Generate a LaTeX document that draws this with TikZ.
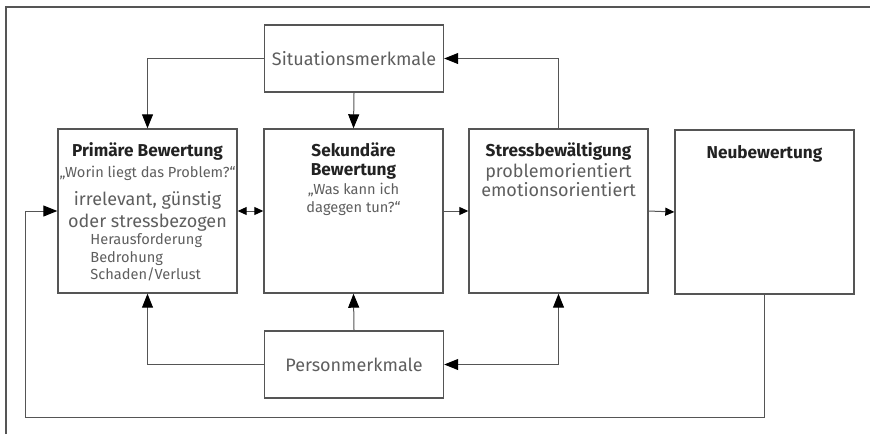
\documentclass[tikz,border=0pt]{standalone}
\usepackage{fontspec}
\setmainfont{Fira Sans}
\usetikzlibrary{arrows.meta}
\definecolor{linegray}{HTML}{555555}
\definecolor{textgray}{HTML}{5E5E5E}
\definecolor{darktext}{HTML}{222222}
\tikzset{
    box/.style={draw=linegray, line width=0.7pt, minimum width=89.5pt, minimum height=82pt, inner sep=0pt},
    smallbox/.style={box, minimum height=33.5pt, text=textgray, font=\fontsize{9}{11}\selectfont},
    bigtip/.tip={Triangle[length=7pt, width=5.5pt, color=black]},
    smalltip/.tip={Triangle[length=4.5pt, width=4pt, color=black]},
    conn/.style={draw=linegray, line width=0.5pt, -bigtip},
    shortconn/.style={draw=linegray, line width=0.5pt, -smalltip},
    titletext/.style={anchor=base, inner sep=0pt, text=darktext, font=\bfseries\fontsize{8.6}{10}\selectfont},
    midtext/.style={anchor=base, inner sep=0pt, text=textgray, font=\fontsize{9}{11}\selectfont},
    smalltext/.style={anchor=base, inner sep=0pt, text=textgray, font=\fontsize{7.3}{9}\selectfont}
}
\begin{document}
\begin{tikzpicture}[x=0.5pt, y=-0.5pt]
    \useasboundingbox (0,0) rectangle (870,434);
    \draw[linegray, line width=0.6pt] (6,434) -- (6,7) -- (870,7);

    \node[smallbox] (sit) at (354,58.5) {Situationsmerkmale};
    \node[box] (prim) at (147.5,211) {};
    \node[box] (sek) at (353.5,211) {};
    \node[box] (stress) at (558.5,211) {};
    \node[box] (neu) at (764.5,212) {};
    \node[smallbox] (pers) at (354,364.5) {Personmerkmale};

    \node[titletext] (primtitle) at (147.5,156) {Primäre Bewertung};
    \node[smalltext] (primq) at (147.5,177) {„Worin liegt das Problem?“};
    \node[midtext] (primA) at (147.5,205) {irrelevant, günstig};
    \node[midtext] (primB) at (147.5,227) {oder stressbezogen};
    \node[smalltext, anchor=base west] (primC) at (90,244) {Herausforderung};
    \node[smalltext, anchor=base west] (primD) at (90,262) {Bedrohung};
    \node[smalltext, anchor=base west] (primE) at (90,279) {Schaden/Verlust};

    \node[titletext] (sektitleA) at (353.5,156) {Sekundäre};
    \node[titletext] (sektitleB) at (353.5,175) {Bewertung};
    \node[smalltext] (sekqA) at (353.5,194) {„Was kann ich};
    \node[smalltext] (sekqB) at (353.5,212) {dagegen tun?“};

    \node[titletext] (stresstitle) at (558.5,156) {Stressbewältigung};
    \node[midtext] (stressA) at (558.5,177) {problemorientiert};
    \node[midtext] (stressB) at (558.5,196) {emotionsorientiert};

    \node[titletext] (neutitle) at (764.5,158) {Neubewertung};

    \draw[conn] (sit.west) -| (prim.north);
    \draw[conn] (sit.south) -- (sek.north);
    \draw[conn] (stress.north) |- (sit.east);
    \draw[shortconn, smalltip-smalltip] (prim.east) -- (sek.west);
    \draw[shortconn] (sek.east) -- (stress.west);
    \draw[shortconn] (stress.east) -- (neu.west);
    \draw[conn] (neu.south) |- (25,417) |- (prim.west);
    \draw[conn] (pers.west) -| (prim.south);
    \draw[conn] (pers.north) -- (sek.south);
    \draw[conn, bigtip-bigtip] (pers.east) -| (stress.south);
\end{tikzpicture}
\end{document}
